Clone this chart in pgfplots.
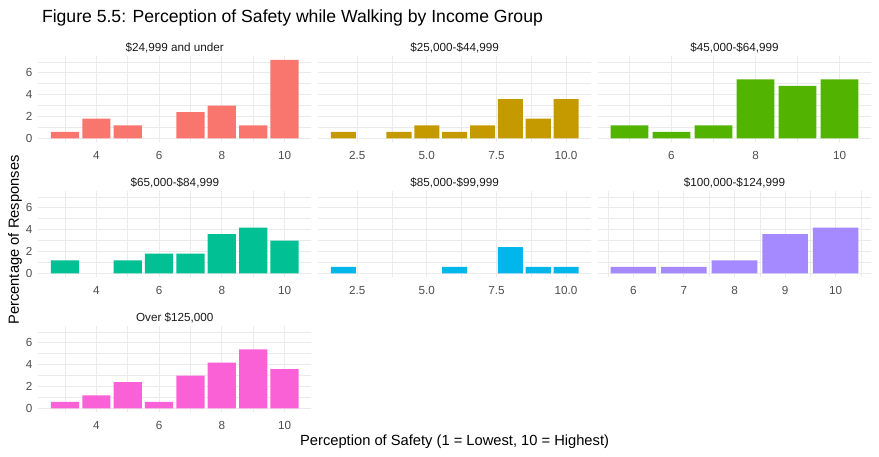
\documentclass[border=0pt]{standalone}
\usepackage{fontspec}
\setmainfont{Liberation Sans}
\usepackage{pgfplots}
\pgfplotsset{compat=1.18}

\definecolor{gridcol}{HTML}{EBEBEB}
\definecolor{tickcol}{HTML}{4D4D4D}
\definecolor{stripcol}{HTML}{1A1A1A}
\definecolor{c1}{HTML}{F8766D}
\definecolor{c2}{HTML}{C49A00}
\definecolor{c3}{HTML}{53B400}
\definecolor{c4}{HTML}{00C094}
\definecolor{c5}{HTML}{00B6EB}
\definecolor{c6}{HTML}{A58AFF}
\definecolor{c7}{HTML}{FB61D7}

\pgfplotsset{
  panel/.style={
    width=272.6pt, height=86.5pt, scale only axis,
    ymin=-0.36, ymax=7.55,
    ytick={0,2,4,6}, minor ytick={1,3,5,7},
    axis line style={draw=none},
    major tick length=0pt, minor tick length=0pt,
    grid=both,
    major grid style={color=gridcol, line width=1pt},
    minor grid style={color=gridcol, line width=0.5pt},
    ybar, bar width=0.9,
    tick label style={font=\fontsize{11.7}{12}\selectfont, text=tickcol},
    /pgf/number format/assume math mode=true,
    xticklabel style={yshift=-5.5pt},
    yticklabel style={xshift=-2.6pt},
    title style={at={(0.5,1)}, anchor=south, yshift=-6.5pt,
      font=\fontsize{11.7}{12}\selectfont, text=stripcol},
    anchor=north west,
  },
  noy/.style={yticklabels={}},
  xa/.style={xmin=2.155, xmax=10.845, xtick={4,6,8,10}, minor xtick={3,5,7,9}},
  xb/.style={xmin=1.105, xmax=10.895, xtick={2.5,5,7.5,10},
    xticklabels={2.5,5.0,7.5,10.0}, minor xtick={3.75,6.25,8.75}},
  xc/.style={xmin=4.255, xmax=10.745, xtick={6,8,10}, minor xtick={5,7,9}},
  xd/.style={xmin=5.305, xmax=10.695, xtick={6,7,8,9,10},
    minor xtick={5.5,6.5,7.5,8.5,9.5,10.5}},
  bars/.style={fill=#1, draw=none},
}

\begin{document}
\begin{tikzpicture}[x=1pt,y=1pt]
\path (0,0) rectangle (879,-457);

% row 1
\begin{axis}[panel, xa, at={(38.5pt,-55.8pt)}, title={\$24,999 and under}]
  \addplot[bars=c1] coordinates {(3,0.599) (4,1.796) (5,1.198) (7,2.395) (8,2.994) (9,1.198) (10,7.186)};
\end{axis}
\begin{axis}[panel, xb, noy, at={(318.4pt,-55.8pt)}, title={\$25,000-\$44,999}]
  \addplot[bars=c2] coordinates {(2,0.599) (4,0.599) (5,1.198) (6,0.599) (7,1.198) (8,3.593) (9,1.796) (10,3.593)};
\end{axis}
\begin{axis}[panel, xc, noy, at={(598.2pt,-55.8pt)}, title={\$45,000-\$64,999}]
  \addplot[bars=c3] coordinates {(5,1.198) (6,0.599) (7,1.198) (8,5.389) (9,4.790) (10,5.389)};
\end{axis}

% row 2
\begin{axis}[panel, xa, at={(38.5pt,-190.8pt)}, title={\$65,000-\$84,999}]
  \addplot[bars=c4] coordinates {(3,1.198) (5,1.198) (6,1.796) (7,1.796) (8,3.593) (9,4.192) (10,2.994)};
\end{axis}
\begin{axis}[panel, xb, noy, at={(318.4pt,-190.8pt)}, title={\$85,000-\$99,999}]
  \addplot[bars=c5] coordinates {(2,0.599) (6,0.599) (8,2.395) (9,0.599) (10,0.599)};
\end{axis}
\begin{axis}[panel, xd, noy, at={(598.2pt,-190.8pt)}, title={\$100,000-\$124,999}]
  \addplot[bars=c6] coordinates {(6,0.599) (7,0.599) (8,1.198) (9,3.593) (10,4.192)};
\end{axis}

% row 3
\begin{axis}[panel, xa, at={(38.5pt,-325.8pt)}, title={Over \$125,000}]
  \addplot[bars=c7] coordinates {(3,0.599) (4,1.198) (5,2.395) (6,0.599) (7,2.994) (8,4.192) (9,5.389) (10,3.593)};
\end{axis}

\node[anchor=base west, font=\fontsize{17.6}{20}\selectfont] at (38.5,-23)
  {Figure 5.5: Perception of Safety while Walking by Income Group};
\node[anchor=base, font=\fontsize{14.7}{16}\selectfont] at (454.6,-445)
  {Perception of Safety (1 = Lowest, 10 = Highest)};
\node[rotate=90, font=\fontsize{14.7}{16}\selectfont] at (15,-240)
  {Percentage of Responses};
\end{tikzpicture}
\end{document}
